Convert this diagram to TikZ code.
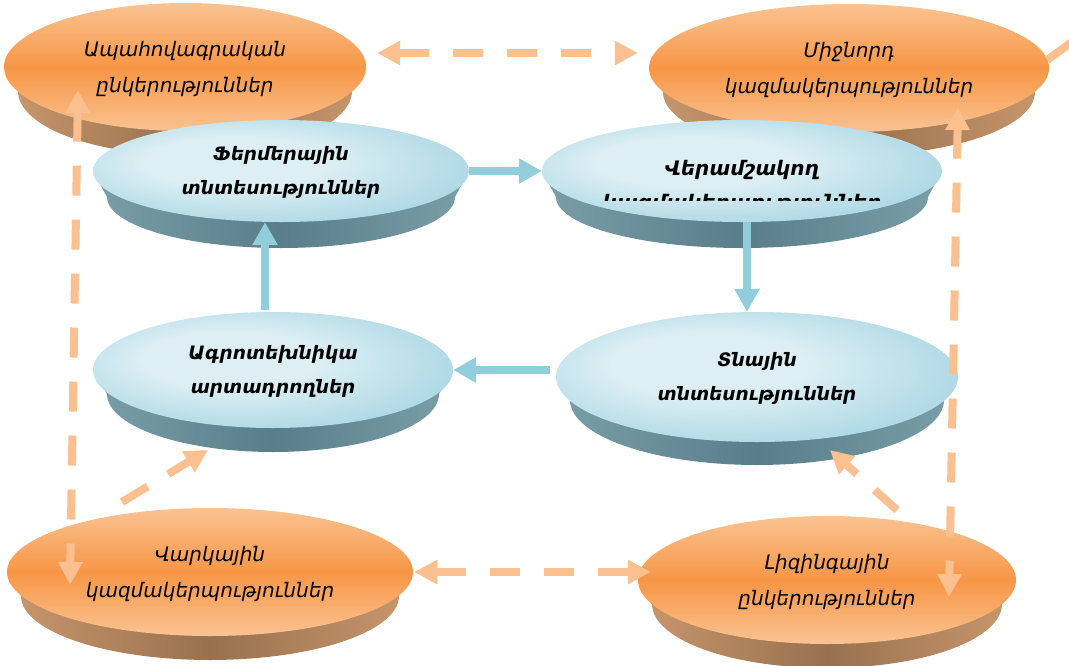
\documentclass[tikz,border=0pt]{standalone}
\usepackage{fontspec}
\setmainfont{DejaVu Sans}[ItalicFont={DejaVu Sans Oblique},BoldFont={DejaVu Sans Bold},BoldItalicFont={DejaVu Sans Bold Oblique}]
\usetikzlibrary{shapes.geometric,arrows.meta,calc}
\definecolor{orL}{HTML}{FAC392}
\definecolor{orM}{HTML}{F79646}
\definecolor{orSL}{HTML}{C9976D}
\definecolor{orSM}{HTML}{98714F}
\definecolor{blL}{HTML}{DDEFF4}
\definecolor{blD}{HTML}{A2D3E1}
\definecolor{blDD}{HTML}{96CCDB}
\definecolor{blSL}{HTML}{7A9FA9}
\definecolor{blSM}{HTML}{5A7E89}
\definecolor{barr}{HTML}{92CDDC}
\definecolor{darr}{HTML}{FAC090}
\pgfdeclareradialshading{blrad}{\pgfpoint{-8bp}{6bp}}{color(0bp)=(blL); color(12bp)=(blL); color(34bp)=(blD); color(50bp)=(blDD)}
\newcommand\twolines[2]{\makebox[0pt]{\begin{tabular}{@{}c@{}}#1\\#2\end{tabular}}}
\newcommand\mydisc[9]{%
  \path[#8side] (#2-#4,#3) -- plot[domain=180:0,samples=61] ({#2+(#4-#7)*cos(\x)},{#3+#6+#5*sin(\x)}) -- (#2+#4,#3) -- cycle;
  \node[#8face, minimum width={2*#4}, minimum height={2*#5}] (#1) at (#2,#3) {#9};
}
\begin{document}
\begin{tikzpicture}[x=1pt,y=-1pt,
 orface/.style={ellipse, inner sep=0pt, top color=orL, bottom color=orL, middle color=orM, font=\fontsize{20}{36}\selectfont\itshape},
 blface/.style={ellipse, inner sep=0pt, shading=blrad, font=\fontsize{18.5}{34}\selectfont\bfseries\itshape},
 vktext/.style={inner sep=0pt, font=\fontsize{20}{32}\selectfont\bfseries\itshape},
 orside/.style={left color=orSL, right color=orSL, middle color=orSM},
 blside/.style={left color=blSL, right color=blSL, middle color=blSM},
 barrow/.style={draw=barr, line width=8pt, -{Triangle[length=23pt,width=24pt]}},
 darrow/.style={draw=darr, line width=8pt, dash pattern=on 30pt off 24pt},
 dline/.style={draw=darr, line width=8pt}
]
\fill[white] (0,0) rectangle (1069,665);
\useasboundingbox (0,0) rectangle (1069,665);

\mydisc{ap}{185}{67}{181}{64}{24}{14}{or}{\twolines{Ապահովագրական}{ընկերություններ}}
\mydisc{mj}{849}{68}{200}{64}{24}{14}{or}{\twolines{Միջնորդ}{կազմակերպություններ}}
\mydisc{ft}{281}{171}{188}{51}{26}{14}{bl}{\raisebox{-4pt}{\twolines{Ֆերմերային}{տնտեսություններ}}}
\mydisc{vk}{742}{171}{200}{51}{26}{14}{bl}{}
\mydisc{ag}{273}{370}{180}{58}{24}{14}{bl}{\twolines{Ագրոտեխնիկա}{արտադրողներ}}
\mydisc{tn}{757}{377}{201}{65}{23}{14}{bl}{\twolines{Տնային}{տնտեսություններ}}
\mydisc{vr}{210}{572}{203}{64}{24}{14}{or}{\twolines{Վարկային}{կազմակերպություններ}}
\mydisc{lz}{827}{580}{189}{64}{24}{14}{or}{\twolines{Լիզինգային}{ընկերություններ}}

\begin{scope}
  \clip (540,120) rectangle (945,200);
  \node[vktext, anchor=base] (vk1) at (742,175) {Վերամշակող};
  \node[vktext, anchor=base] (vk2) at (742,209) {կազմակերպություններ};
\end{scope}

% blue solid arrows
\draw[barrow] (ft.east) -- (ft.east -| vk.west);
\coordinate (b2s) at ($(vk.south)+(5,0)$);
\draw[barrow] (b2s) -- (b2s |- tn.north);
\coordinate (b3s) at ($(tn.west |- ag.east)+(-6,0)$);
\draw[barrow] (b3s) -- (ag.east);
\coordinate (b4s) at ($(ag.north)+(-8,-2)$);
\draw[barrow] (b4s) -- (b4s |- ft.south);

% dashed orange arrows
\draw[darrow, {Triangle[length=23pt,width=23pt]}-{Triangle[length=23pt,width=23pt]}] ($(ap.east)+(11,-14)$) -- ($(mj.west)+(-11,-15)$);
\draw[darrow, {Triangle[length=23pt,width=23pt]}-{Triangle[length=23pt,width=23pt]}] ($(ap.center)+(-107,23)$) -- ($(vr.center)+(-140,13)$);
\draw[darrow, {Triangle[length=23pt,width=23pt]}-{Triangle[length=23pt,width=23pt]}] ($(mj.center)+(109,39)$) -- ($(lz.center)+(122,17)$);
\draw[darrow, {Triangle[length=23pt,width=23pt]}-{Triangle[length=23pt,width=23pt]}] ($(vr.east)+(1,0)$) -- ($(lz.west)+(13,-8)$);
\draw[darrow, -{Triangle[length=23pt,width=23pt]}] ($(vr.center)+(-88,-70)$) -- ($(ag.center)+(-65,80)$);
\draw[darrow, -{Triangle[length=23pt,width=23pt]}] ($(lz.center)+(70,-70)$) -- ($(tn.center)+(73,73)$);
\coordinate (offr) at (1095,25);
\draw[dline] ($(mj.east)+(-2,-8)$) -- (offr);
\end{tikzpicture}
\end{document}
